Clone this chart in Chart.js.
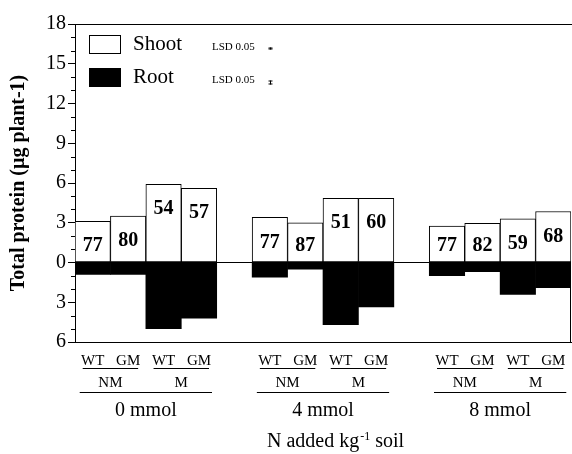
<!DOCTYPE html>
<html>
<head>
<meta charset="utf-8">
<script src="https://cdn.jsdelivr.net/npm/chart.js@4"></script>
<style>
html,body{margin:0;padding:0;background:#fff;}
#wrap{width:572px;height:454px;position:relative;}
</style>
</head>
<body>
<div id="wrap"><canvas id="c"></canvas></div>
<script>
// ---- data ----
const barLabels = ['WT','GM','WT','GM','','WT','GM','WT','GM','','WT','GM','WT','GM'];
const shootValues = [3.1, 3.5, 5.9, 5.6, null, 3.4, 3.0, 4.85, 4.85, null, 2.75, 2.95, 3.3, 3.85];
const rootValues = [-0.9, -0.9, -5.0, -4.2, null, -1.1, -0.5, -4.7, -3.35, null, -1.0, -0.7, -2.4, -1.9];
const shootBarText = ['77','80','54','57','','77','87','51','60','','77','82','59','68'];
const mycGroups = ['NM','M'];
const nGroups = ['0 mmol','4 mmol','8 mmol'];
const yTicksMajor = [-6,-3,0,3,6,9,12,15,18];
const legendNames = ['Shoot','Root'];
const lsdLabel = 'LSD 0.05';
const lsdValues = [0.15, 0.3];
const yTitle = 'Total protein (\u00b5g plant-1)';
const xTitleMain = 'N added kg';
const xTitleSup = '-1';
const xTitleEnd = ' soil';

const SERIF = "'Liberation Serif', 'Times New Roman', serif";

const annot = {
  id: 'annot',
  afterDraw(chart) {
    const ctx = chart.ctx;
    const ca = chart.chartArea;
    const xs = chart.scales.x, ys = chart.scales.y;
    const zero = ys.getPixelForValue(0);
    ctx.save();
    ctx.strokeStyle = '#000';
    ctx.fillStyle = '#000';
    ctx.lineWidth = 1;
    // top frame line
    ctx.beginPath();
    ctx.moveTo(ca.left, Math.round(ca.top) + 0.5);
    ctx.lineTo(572, Math.round(ca.top) + 0.5);
    // right frame line (lower part)
    ctx.moveTo(Math.round(ca.right) - 0.5, zero);
    ctx.lineTo(Math.round(ca.right) - 0.5, ca.bottom);
    ctx.stroke();
    // minor ticks
    ctx.beginPath();
    for (let v = ys.min; v <= ys.max; v++) {
      if (yTicksMajor.includes(v)) continue;
      const py = Math.round(ys.getPixelForValue(v)) + 0.5;
      ctx.moveTo(ca.left - 4, py);
      ctx.lineTo(ca.left, py);
    }
    ctx.stroke();
    // bar value labels
    const meta = chart.getDatasetMeta(0);
    ctx.font = 'bold 20px ' + SERIF;
    ctx.textAlign = 'center';
    ctx.textBaseline = 'middle';
    meta.data.forEach((el, i) => {
      if (!shootBarText[i]) return;
      const y = Math.min(el.y + 25, zero - 17);
      ctx.fillText(shootBarText[i], el.x, y);
    });
    // legend
    ctx.textAlign = 'left';
    ctx.textBaseline = 'alphabetic';
    ctx.fillStyle = '#fff';
    ctx.fillRect(89, 35, 31, 18);
    ctx.strokeRect(89.5, 35.5, 31, 18);
    ctx.fillStyle = '#000';
    ctx.fillRect(89, 68, 32, 19);
    ctx.font = '21px ' + SERIF;
    ctx.fillText(legendNames[0], 133, 50);
    ctx.fillText(legendNames[1], 133, 83);
    ctx.font = '11px ' + SERIF;
    ctx.fillText(lsdLabel, 212, 50);
    ctx.fillText(lsdLabel, 212, 83);
    // LSD bars
    const unit = ys.getPixelForValue(0) - ys.getPixelForValue(1);
    [[48.5, lsdValues[0]], [82.5, lsdValues[1]]].forEach(([cy, v]) => {
      const h = Math.max(2, v * unit);
      ctx.beginPath();
      ctx.moveTo(270.5, cy - h / 2);
      ctx.lineTo(270.5, cy + h / 2);
      ctx.moveTo(268.5, cy - h / 2 + 0.5);
      ctx.lineTo(272.5, cy - h / 2 + 0.5);
      ctx.moveTo(268.5, cy + h / 2 - 0.5);
      ctx.lineTo(272.5, cy + h / 2 - 0.5);
      ctx.stroke();
    });
    // bottom hierarchical labels
    ctx.textAlign = 'center';
    ctx.beginPath();
    nGroups.forEach((g, gi) => {
      const s = gi * 5;
      for (let p = 0; p < 2; p++) {
        const a = xs.getPixelForValue(s + 2 * p), b = xs.getPixelForValue(s + 2 * p + 1);
        ctx.moveTo(a - 10, 368.5);
        ctx.lineTo(b + 10, 368.5);
      }
      const a = xs.getPixelForValue(s), b = xs.getPixelForValue(s + 3);
      ctx.moveTo(a - 13, 392.5);
      ctx.lineTo(b + 13, 392.5);
    });
    ctx.stroke();
    ctx.font = '15px ' + SERIF;
    nGroups.forEach((g, gi) => {
      const s = gi * 5;
      for (let p = 0; p < 2; p++) {
        const a = xs.getPixelForValue(s + 2 * p), b = xs.getPixelForValue(s + 2 * p + 1);
        ctx.fillText(mycGroups[p], (a + b) / 2, 387);
      }
    });
    ctx.font = '20px ' + SERIF;
    nGroups.forEach((g, gi) => {
      const s = gi * 5;
      const a = xs.getPixelForValue(s), b = xs.getPixelForValue(s + 3);
      ctx.fillText(g, (a + b) / 2, 416);
    });
    // x axis title with superscript
    ctx.textAlign = 'left';
    ctx.font = '20px ' + SERIF;
    const w1 = ctx.measureText(xTitleMain).width;
    const w3 = ctx.measureText(xTitleEnd).width;
    ctx.font = '12px ' + SERIF;
    const w2 = ctx.measureText(xTitleSup).width;
    const total = w1 + w2 + w3;
    const cx = (ca.left + ca.right) / 2 + 12;
    let x0 = cx - total / 2;
    ctx.font = '20px ' + SERIF;
    ctx.fillText(xTitleMain, x0, 447);
    ctx.font = '12px ' + SERIF;
    ctx.fillText(xTitleSup, x0 + w1 + 1, 440);
    ctx.font = '20px ' + SERIF;
    ctx.fillText(xTitleEnd, x0 + w1 + w2 + 1, 447);
    ctx.restore();
  }
};

new Chart(document.getElementById('c'), {
  type: 'bar',
  data: {
    labels: barLabels,
    datasets: [
      { label: legendNames[0], data: shootValues, backgroundColor: '#fff', borderColor: '#000', borderWidth: 1, borderSkipped: false },
      { label: legendNames[1], data: rootValues, backgroundColor: '#000', borderColor: '#000', borderWidth: 0 }
    ]
  },
  options: {
    responsive: true,
    maintainAspectRatio: false,
    animation: false,
    layout: { padding: { top: 24, right: 1, left: 0, bottom: 0 } },
    datasets: { bar: { barPercentage: 1, categoryPercentage: 1 } },
    plugins: { legend: { display: false }, tooltip: { enabled: false } },
    scales: {
      x: {
        stacked: true,
        offset: true,
        grid: { display: false, drawTicks: false },
        border: { display: true, color: '#000', width: 1 },
        ticks: { autoSkip: false, maxRotation: 0, padding: 10, color: '#000', font: { family: SERIF, size: 15 } },
        afterFit(scale) { scale.height = 112; scale.paddingLeft = 0; scale.paddingRight = 0; }
      },
      y: {
        stacked: true,
        min: -6,
        max: 18,
        grid: {
          drawOnChartArea: true,
          color: (c) => (c.tick && c.tick.value === 0 ? '#000' : 'rgba(0,0,0,0)'),
          tickColor: '#000',
          tickLength: 7,
          drawTicks: true
        },
        border: { display: true, color: '#000', width: 1 },
        ticks: {
          stepSize: 3,
          padding: 2,
          color: '#000',
          font: { family: SERIF, size: 20 },
          callback: (v) => String(Math.abs(v))
        },
        title: {
          display: true,
          text: yTitle,
          color: '#000',
          font: { family: SERIF, size: 20, weight: 'bold' },
          padding: { top: 7, bottom: 0 }
        },
        afterFit(scale) { scale.width = 75; }
      }
    }
  },
  plugins: [annot]
});
</script>
</body>
</html>
